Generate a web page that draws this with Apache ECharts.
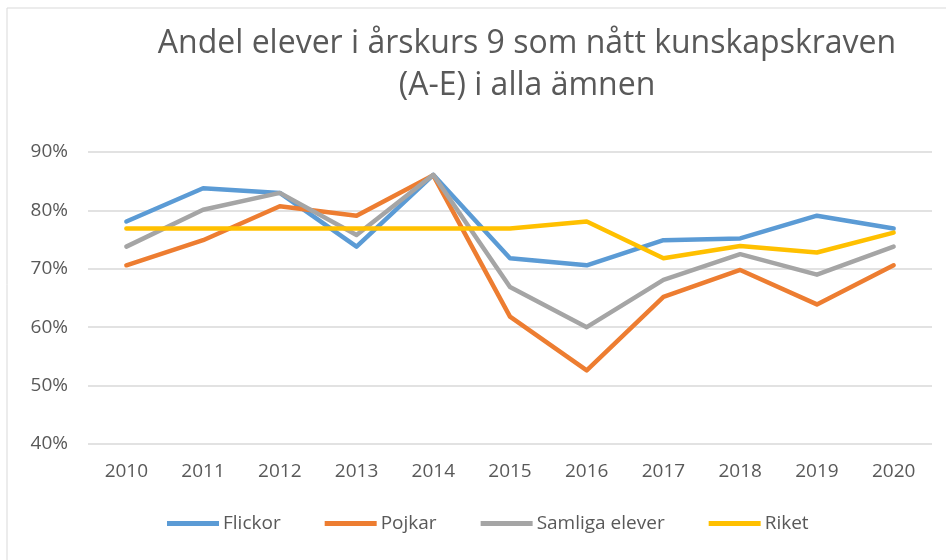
<!DOCTYPE html>
<html>
<head>
<meta charset="utf-8">
<script src="https://cdn.jsdelivr.net/npm/echarts@6/dist/echarts.min.js"></script>
<style>
    html, body { margin: 0; padding: 0; background: #fff; }
    #chart { width: 946px; height: 560px; }
</style>
</head>
<body>
<div id="chart"></div>
<script>
// Chart data
const years = ['2010', '2011', '2012', '2013', '2014', '2015', '2016', '2017', '2018', '2019', '2020'];
const flickor = [78.1, 83.8, 83.0, 73.8, 86.1, 71.8, 70.6, 74.9, 75.2, 79.1, 76.9];
const pojkar = [70.6, 74.9, 80.7, 79.1, 86.0, 61.8, 52.6, 65.2, 69.8, 63.9, 70.6];
const samliga = [73.8, 80.1, 83.0, 75.8, 86.1, 66.9, 60.0, 68.1, 72.5, 69.0, 73.8];
const riket = [76.9, 76.9, 76.9, 76.9, 76.9, 76.9, 78.1, 71.8, 73.9, 72.8, 76.2];
const seriesNames = ['Flickor', 'Pojkar', 'Samliga elever', 'Riket'];
const colors = ['#5B9BD5', '#ED7D31', '#A5A5A5', '#FFC000'];

const font = "'Open Sans', sans-serif";
const textColor = '#595959';

const chart = echarts.init(document.getElementById('chart'));

function lineSeries(name, data, color) {
    return {
        name: name,
        type: 'line',
        data: data,
        symbol: 'none',
        lineStyle: { width: 4.5, color: color, cap: 'round', join: 'round' },
        itemStyle: { color: color }
    };
}

const option = {
    animation: false,
    backgroundColor: '#fff',
    title: {
        text: 'Andel elever i årskurs 9 som nått kunskapskraven\n(A-E) i alla ämnen',
        left: 522,
        textAlign: 'center',
        top: 18,
        textStyle: {
            fontFamily: font,
            fontSize: 32,
            fontWeight: 'normal',
            color: textColor,
            lineHeight: 42
        }
    },
    graphic: [{
        type: 'rect',
        shape: { x: 7, y: 8, width: 960, height: 580 },
        style: { fill: 'none', stroke: '#d9d9d9', lineWidth: 1 },
        silent: true
    }],
    legend: {
        bottom: 22,
        left: 162,
        itemWidth: 52,
        itemHeight: 5,
        itemGap: 44,
        icon: 'rect',
        data: seriesNames,
        textStyle: { fontFamily: font, fontSize: 19, color: textColor, padding: [0, 0, 0, -1] }
    },
    grid: {
        left: 88,
        right: 14,
        top: 152,
        bottom: 116
    },
    xAxis: {
        type: 'category',
        data: years,
        boundaryGap: true,
        axisLine: { show: false },
        axisTick: { show: false },
        axisLabel: { fontFamily: font, fontSize: 19, color: textColor, margin: 18 }
    },
    yAxis: {
        type: 'value',
        min: 40,
        max: 90,
        interval: 10,
        axisLine: { show: false },
        axisTick: { show: false },
        axisLabel: { formatter: '{value}%', fontFamily: font, fontSize: 19, color: textColor, margin: 20 },
        splitLine: { lineStyle: { color: '#d9d9d9', width: 1.5 } }
    },
    series: [
        lineSeries(seriesNames[0], flickor, colors[0]),
        lineSeries(seriesNames[1], pojkar, colors[1]),
        lineSeries(seriesNames[2], samliga, colors[2]),
        lineSeries(seriesNames[3], riket, colors[3])
    ]
};

chart.setOption(option);
</script>
</body>
</html>
